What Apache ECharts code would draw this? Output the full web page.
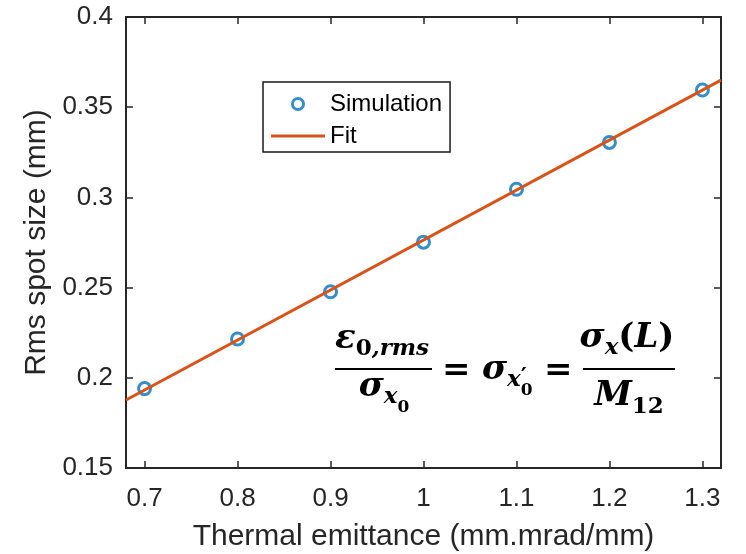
<!DOCTYPE html>
<html>
<head>
<meta charset="utf-8">
<script src="https://cdn.jsdelivr.net/npm/echarts@6/dist/echarts.min.js"></script>
<style>
  html, body { margin: 0; padding: 0; background: #ffffff; }
  #chart { width: 746px; height: 554px; }
</style>
</head>
<body>
<div id="chart"></div>
<script>
// Thermal emittance (mm.mrad/mm) and simulated rms spot size (mm)
const emittance = [0.7, 0.8, 0.9, 1.0, 1.1, 1.2, 1.3];
const spotSize = [0.194, 0.2215, 0.2477, 0.2752, 0.3045, 0.3305, 0.3595];

// Linear fit, sampled at the ends of the x range
const fitX = [0.68, 1.32];
const fitY = [0.1877, 0.365];

const AXIS_COLOR = '#262626';
const BLUE = '#0072BD';
const ORANGE = '#D95319';
const SANS = '"Liberation Sans", Arial, sans-serif';
const SERIF = '"DejaVu Serif", serif';

const chart = echarts.init(document.getElementById('chart'), null, { renderer: 'canvas' });

// ---- equation annotation, laid out with measured glyph widths ----
const measureCtx = document.createElement('canvas').getContext('2d');
function fontOf(p) {
  return (p.it ? 'italic ' : '') + 'bold ' + p.fs + 'px ' + SERIF;
}
function widthOf(p) {
  measureCtx.font = fontOf(p);
  return measureCtx.measureText(p.t).width;
}
// pieces: {t, fs, it, dy, back, dx}; dy = baseline shift, back = reuse previous x
function runWidth(pieces) {
  let x = 0, maxX = 0, prevX = 0;
  pieces.forEach(p => {
    const start = (p.back ? prevX : x) + (p.dx || 0);
    const w = widthOf(p);
    prevX = start;
    x = Math.max(x, start + w);
    maxX = Math.max(maxX, x);
  });
  return maxX;
}
function runElements(pieces, left, baseline) {
  const out = [];
  let x = left, prevX = left;
  pieces.forEach(p => {
    const start = (p.back ? prevX : x) + (p.dx || 0);
    const w = widthOf(p);
    out.push({
      type: 'text',
      x: start,
      y: baseline + (p.dy || 0) - 0.346 * p.fs,
      silent: true,
      style: {
        text: p.t,
        font: fontOf(p),
        fill: '#000000',
        align: 'left',
        verticalAlign: 'middle'
      }
    });
    prevX = start;
    x = Math.max(x, start + w);
  });
  return out;
}
function centered(pieces, cx, baseline) {
  return runElements(pieces, cx - runWidth(pieces) / 2, baseline);
}

const M = 34, S = 23, SS = 17;
const leftNum = [
  { t: 'ε', fs: M, it: true },
  { t: '0', fs: S, dy: 6 },
  { t: ',rms', fs: S, it: true, dy: 6 }
];
const leftDen = [
  { t: 'σ', fs: M, it: true },
  { t: 'x', fs: S, it: true, dy: 6 },
  { t: '0', fs: SS, dy: 14 }
];
const middle = [
  { t: 'σ', fs: M, it: true },
  { t: 'x', fs: S, it: true, dy: 6 },
  { t: '′', fs: S, dy: 3, dx: 0 },
  { t: '0', fs: SS, dy: 14, back: true }
];
const rightNum = [
  { t: 'σ', fs: M, it: true },
  { t: 'x', fs: S, it: true, dy: 6 },
  { t: '(', fs: M },
  { t: 'L', fs: M, it: true },
  { t: ')', fs: M }
];
const rightDen = [
  { t: 'M', fs: M, it: true },
  { t: '12', fs: S, dy: 7 }
];
const eq = [{ t: '=', fs: M }];

const equation = [].concat(
  centered(leftNum, 382, 351),
  [{ type: 'rect', silent: true, shape: { x: 335, y: 368, width: 97, height: 2 }, style: { fill: '#000' } }],
  centered(leftDen, 384, 399),
  runElements(eq, 442, 383),
  runElements(middle, 482, 382),
  runElements(eq, 544, 383),
  centered(rightNum, 627, 350),
  [{ type: 'rect', silent: true, shape: { x: 583, y: 368, width: 92, height: 2 }, style: { fill: '#000' } }],
  centered(rightDen, 629, 408)
);

const tickLabel = v => {
  const k = Math.round(v * 100);
  return (k % 10 === 0) ? String(+v.toFixed(2)) : '';
};

const option = {
  backgroundColor: '#ffffff',
  animation: false,
  grid: {
    left: 126, right: 25, top: 17, bottom: 86,
    containLabel: false,
    outerBoundsMode: 'none'
  },
  legend: {
    orient: 'vertical',
    left: 263,
    top: 82,
    padding: [10, 8, 4, 8],
    itemGap: 8,
    itemWidth: 54,
    itemHeight: 11,
    borderColor: '#1a1a1a',
    borderWidth: 1.5,
    backgroundColor: '#ffffff',
    textStyle: { fontFamily: SANS, fontSize: 24, color: '#000000' },
    data: [
      { name: 'Simulation', icon: 'circle', itemStyle: { color: 'rgba(255,255,255,0)', borderColor: BLUE, borderWidth: 3 } },
      { name: 'Fit', icon: 'path://M0,0L54,0L54,3L0,3Z', itemStyle: { color: ORANGE, borderWidth: 0 } }
    ]
  },
  xAxis: [
    {
      type: 'value',
      min: 0.68,
      max: 1.32,
      position: 'bottom',
      splitLine: { show: false },
      axisLine: { onZero: false, lineStyle: { color: AXIS_COLOR, width: 2 } },
      axisTick: { inside: true, length: 7, lineStyle: { color: AXIS_COLOR, width: 1.5 } },
      axisLabel: {
        margin: 18, fontFamily: SANS, fontSize: 26, color: AXIS_COLOR,
        showMinLabel: false, showMaxLabel: false,
        formatter: tickLabel
      },
      name: 'Thermal emittance (mm.mrad/mm)',
      nameLocation: 'middle',
      nameGap: 54,
      nameTextStyle: { fontFamily: SANS, fontSize: 30, color: AXIS_COLOR }
    },
    {
      type: 'value',
      min: 0.68,
      max: 1.32,
      position: 'top',
      splitLine: { show: false },
      axisLine: { onZero: false, lineStyle: { color: AXIS_COLOR, width: 2 } },
      axisTick: { inside: true, length: 7, lineStyle: { color: AXIS_COLOR, width: 1.5 } },
      axisLabel: { show: false }
    }
  ],
  yAxis: [
    {
      type: 'value',
      min: 0.15,
      max: 0.4,
      interval: 0.05,
      position: 'left',
      splitLine: { show: false },
      axisLine: { onZero: false, lineStyle: { color: AXIS_COLOR, width: 2 } },
      axisTick: { inside: true, length: 7, lineStyle: { color: AXIS_COLOR, width: 1.5 } },
      axisLabel: { margin: 13, fontFamily: SANS, fontSize: 26, color: AXIS_COLOR },
      name: 'Rms spot size (mm)',
      nameLocation: 'middle',
      nameGap: 70,
      nameTextStyle: { fontFamily: SANS, fontSize: 30, color: AXIS_COLOR }
    },
    {
      type: 'value',
      min: 0.15,
      max: 0.4,
      interval: 0.05,
      position: 'right',
      splitLine: { show: false },
      axisLine: { onZero: false, lineStyle: { color: AXIS_COLOR, width: 2 } },
      axisTick: { inside: true, length: 7, lineStyle: { color: AXIS_COLOR, width: 1.5 } },
      axisLabel: { show: false }
    }
  ],
  series: [
    {
      name: 'Simulation',
      type: 'scatter',
      xAxisIndex: 0,
      yAxisIndex: 0,
      symbol: 'circle',
      symbolSize: 12,
      itemStyle: { color: 'rgba(255,255,255,0)', borderColor: BLUE, borderWidth: 3 },
      z: 2,
      data: emittance.map((x, i) => [x, spotSize[i]])
    },
    {
      name: 'Fit',
      type: 'line',
      xAxisIndex: 0,
      yAxisIndex: 0,
      showSymbol: false,
      symbol: 'none',
      lineStyle: { color: ORANGE, width: 3 },
      itemStyle: { color: ORANGE },
      z: 3,
      data: fitX.map((x, i) => [x, fitY[i]])
    }
  ],
  graphic: { elements: equation }
};

chart.setOption(option);
</script>
</body>
</html>
